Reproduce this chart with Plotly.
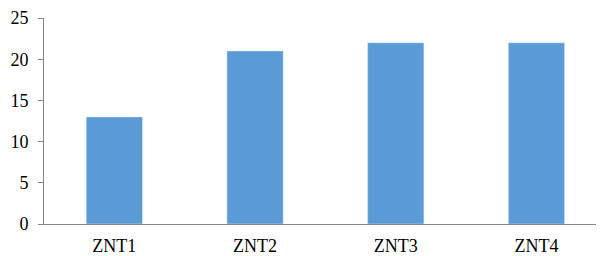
import plotly.graph_objects as go

categories = ["ZNT1", "ZNT2", "ZNT3", "ZNT4"]
values = [13, 21, 22, 22]
y_ticks = [0, 5, 10, 15, 20, 25]

fig = go.Figure(go.Bar(x=categories, y=values, marker_color="#5B9BD5", width=0.4))

font = dict(family="Liberation Serif", size=18, color="#000000")
fig.update_layout(
    width=596, height=248,
    margin=dict(l=36, r=0, t=10, b=32),
    plot_bgcolor="white", paper_bgcolor="white",
    font=font, showlegend=False, bargap=0.6,
)
fig.update_xaxes(range=[-0.5, 3.48], showline=True, linecolor="#868686", linewidth=1,
                 ticks="", showgrid=False, tickfont=font, ticklabelstandoff=5)
fig.update_yaxes(range=[0, 25], tickvals=y_ticks, showline=True, linecolor="#868686", linewidth=1,
                 ticks="outside", ticklen=5, tickcolor="#868686", showgrid=False, zeroline=False,
                 tickfont=font, ticklabelstandoff=6)
fig.write_html("out.html")
